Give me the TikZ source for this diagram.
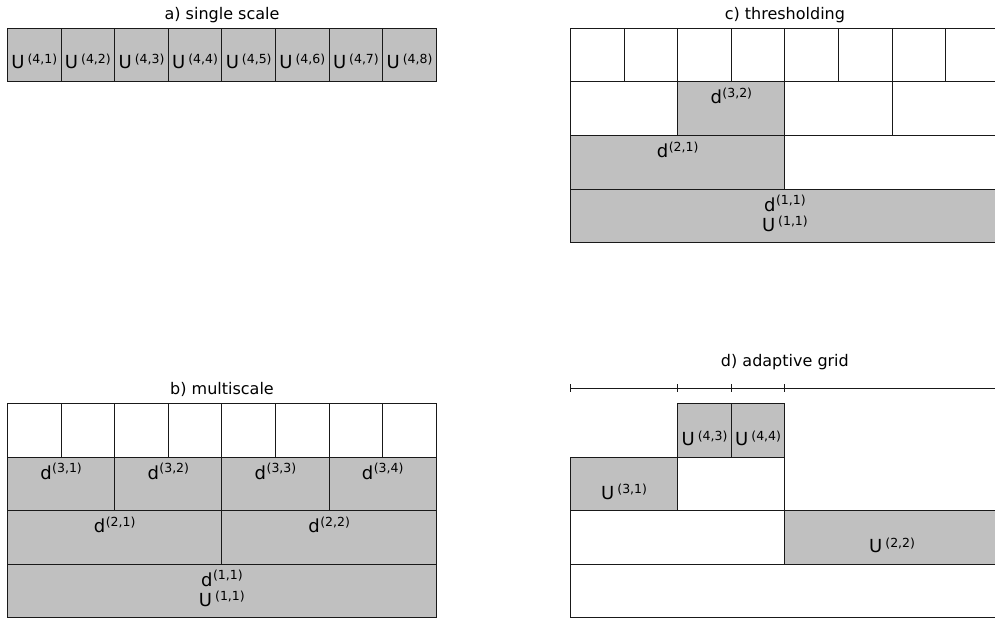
\documentclass[tikz,border=0pt]{standalone}
\usepackage{fontspec}
\setmainfont{DejaVu Sans}
\definecolor{cellgray}{RGB}{192,192,192}
\definecolor{edgecol}{RGB}{25,25,25}
\newcommand{\Ulab}[1]{{\fontsize{18}{21}\selectfont U}\hspace{3pt}\raisebox{5.5pt}{\fontsize{12.5}{14}\selectfont(#1)}}
\newcommand{\dlab}[1]{{\fontsize{18}{21}\selectfont d}\hspace{0.5pt}\raisebox{6.5pt}{\fontsize{12.5}{14}\selectfont(#1)}}
\tikzset{
  cellw/.style={draw=edgecol, line width=0.9pt, fill=white},
  cellg/.style={draw=edgecol, line width=0.9pt, fill=cellgray},
  lab/.style={anchor=base, inner sep=0pt},
  ttl/.style={anchor=base, inner sep=0pt, font=\fontsize{16}{19}\selectfont},
  axisline/.style={draw=edgecol, line width=0.9pt}
}
\begin{document}
\begin{tikzpicture}[x=1pt,y=-1pt]
\useasboundingbox (0,0) rectangle (995,621);
\clip (0,0) rectangle (995,621);
% titles
\node[ttl] (ta) at (222,19) {a) single scale};
\node[ttl] (tb) at (222,394) {b) multiscale};
\node[ttl] (tc) at (784.9,19) {c) thresholding};
\node[ttl] (td) at (784.9,366) {d) adaptive grid};
% ---------- a) single scale
\foreach \i in {0,...,7}{
  \pgfmathtruncatemacro{\k}{\i+1}
  \draw[cellg] (7.5+53.6*\i,28.3) rectangle ++(53.6,53.6);
  \node[lab] (ua\k) at (7.5+53.6*\i+26.8,68.5) {\Ulab{4,\k}};
}
% ---------- b) multiscale
\foreach \i in {0,...,7}{
  \draw[cellw] (7.5+53.6*\i,403.5) rectangle ++(53.6,53.6);
}
\foreach \i in {0,...,3}{
  \pgfmathtruncatemacro{\k}{\i+1}
  \draw[cellg] (7.5+107.2*\i,457.1) rectangle ++(107.2,53.6);
  \node[lab] (bd3\k) at (7.5+107.2*\i+53.6,479.1) {\dlab{3,\k}};
}
\foreach \i in {0,1}{
  \pgfmathtruncatemacro{\k}{\i+1}
  \draw[cellg] (7.5+214.4*\i,510.7) rectangle ++(214.4,53.6);
  \node[lab] (bd2\k) at (7.5+214.4*\i+107.2,532.7) {\dlab{2,\k}};
}
\draw[cellg] (7.5,564.3) rectangle ++(428.8,53.6);
\node[lab] (bd11) at (221.9,586.3) {\dlab{1,1}};
\node[lab] (bu11) at (221.9,606.3) {\Ulab{1,1}};
% ---------- c) thresholding
\foreach \i in {0,...,7}{
  \draw[cellw] (570.5+53.6*\i,28.3) rectangle ++(53.6,53.6);
}
\draw[cellw] (570.5,81.9) rectangle ++(107.2,53.6);
\draw[cellg] (677.7,81.9) rectangle ++(107.2,53.6);
\draw[cellw] (784.9,81.9) rectangle ++(107.2,53.6);
\draw[cellw] (892.1,81.9) rectangle ++(107.2,53.6);
\node[lab] (cd32) at (731.3,103.9) {\dlab{3,2}};
\draw[cellg] (570.5,135.5) rectangle ++(214.4,53.6);
\draw[cellw] (784.9,135.5) rectangle ++(214.4,53.6);
\node[lab] (cd21) at (677.7,157.5) {\dlab{2,1}};
\draw[cellg] (570.5,189.1) rectangle ++(428.8,53.6);
\node[lab] (cd11) at (784.9,211.1) {\dlab{1,1}};
\node[lab] (cu11) at (784.9,231.1) {\Ulab{1,1}};
% ---------- d) adaptive grid
\coordinate (axL) at (570.5,388);
\coordinate (axR) at (999.3,388);
\draw[axisline] (axL) -- (axR);
\foreach \x in {570.5,677.7,731.3,784.9,999.3}{
  \draw[axisline] (\x,384) -- (\x,392);
}
\draw[cellg] (677.7,403.5) rectangle ++(53.6,53.6);
\draw[cellg] (731.3,403.5) rectangle ++(53.6,53.6);
\node[lab] (du43) at (704.5,445.5) {\Ulab{4,3}};
\node[lab] (du44) at (758.1,445.5) {\Ulab{4,4}};
\draw[cellg] (570.5,457.1) rectangle ++(107.2,53.6);
\draw[cellw] (677.7,457.1) rectangle ++(107.2,53.6);
\node[lab] (du31) at (624.1,499.1) {\Ulab{3,1}};
\draw[cellw] (570.5,510.7) rectangle ++(214.4,53.6);
\draw[cellg] (784.9,510.7) rectangle ++(214.4,53.6);
\node[lab] (du22) at (892.1,552.7) {\Ulab{2,2}};
\draw[cellw] (570.5,564.3) rectangle ++(428.8,53.6);
\end{tikzpicture}
\end{document}
